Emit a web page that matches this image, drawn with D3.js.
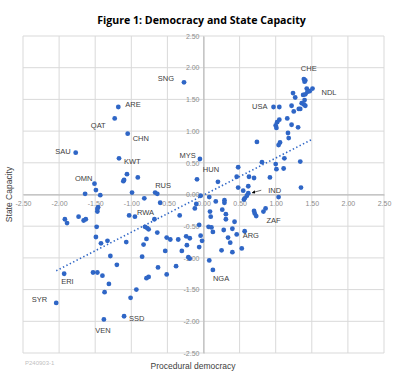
<!DOCTYPE html>
<html>
<head>
<meta charset="utf-8">
<script src="https://cdn.jsdelivr.net/npm/d3@7"></script>
<style>
  body { margin: 0; background: #ffffff; }
  svg { display: block; }
</style>
</head>
<body>
<div id="chart"></div>
<script>
// procedural democracy (x) vs state capacity (y)
const democracy = [
  -0.27, -1.18, -1.23, -1.05, -1.77, -1.17, -0.05, -1.06, -0.91, -1.10,
  -1.11, -0.09, -1.51, -1.49, -1.64, -1.43, -0.99, -0.67, -0.64, -0.82,
  -0.60, -1.46, -1.47, -1.47, -1.92, -1.89, -1.73, -1.66, -1.63, -1.03,
  -0.95, -0.68, -1.48, -0.81, -0.78, -0.76, -0.64, -0.33, -0.10, -0.12,
  -1.49, -1.42, -1.33, -1.07, -0.79, -0.83, -0.51, -0.46, -0.35, -1.29,
  -1.20, -0.85, -0.53, -0.38, -0.63, -0.51, -1.93, -1.53, -1.47, -1.40,
  -1.31, -1.37, -0.76, -0.79, -0.93, -1.01, -2.04, -1.38, -1.10, -0.30,
  -0.24, -0.23, -0.19, -0.21, -0.19, -0.06, -0.04, -0.02, -0.06, 0.07,
  0.11, 0.13, 0.28, 0.34, 0.37, 0.25, 0.40, 0.53, 0.08, 0.13,
  0.43, 0.40, 0.46, 0.57, 0.08, 0.17, 0.29, 0.29, 0.26, 0.31,
  0.31, 0.09, 0.10, 0.70, 0.71, 0.73, 0.83, 0.86, 1.04, 0.62,
  0.60, 0.57, 0.56, 0.55, 0.48, 0.62, 1.35, 0.20, 0.46, 0.63,
  0.70, 0.92, 0.48, 0.81, 1.00, 1.01, 1.11, 1.12, 1.34, 0.74,
  1.06, 1.04, 1.18, 1.17, 1.05, 1.02, 1.00, 1.01, 1.16, 1.22,
  1.31, 0.97, 1.05, 1.22, 1.25, 1.32, 1.34, 1.36, 1.39, 1.41,
  1.40, 1.38, 1.41, 1.24, 1.27, 1.43, 1.47, 1.51, 1.44, 1.39,
  1.41, 1.40, -0.04
];
const capacity = [
  1.77, 1.38, 1.20, 0.96, 0.66, 0.57, 0.56, 0.32, 0.27, 0.23,
  0.21, 0.24, 0.17, 0.07, 0.01, -0.01, 0.03, 0.03, 0.01, -0.06,
  -0.13, -0.20, -0.23, -0.27, -0.39, -0.45, -0.35, -0.41, -0.39, -0.33,
  -0.35, -0.39, -0.51, -0.51, -0.53, -0.55, -0.60, -0.33, -0.15, -0.22,
  -0.67, -0.77, -0.73, -0.75, -0.70, -0.79, -0.68, -0.71, -0.71, -0.97,
  -1.11, -0.98, -0.89, -1.13, -1.15, -1.26, -1.25, -1.23, -1.23, -1.28,
  -1.41, -1.54, -1.30, -1.32, -1.50, -1.63, -1.71, -1.97, -1.92, -0.89,
  -0.66, -0.80, -0.69, -0.99, -1.01, -0.48, -0.65, -0.73, -0.83, -0.51,
  -0.52, -0.59, -0.56, -0.68, -0.76, -0.88, -0.91, -0.85, -1.04, -1.19,
  -0.43, -0.54, -0.63, -0.58, -0.04, -0.11, -0.09, -0.13, -0.24, -0.31,
  -0.39, -0.27, -0.35, -0.26, -0.30, -0.34, -0.27, -0.22, -0.04, 0.02,
  -0.02, -0.06, -0.08, 0.06, 0.11, 0.13, 0.11, 0.20, 0.28, 0.28,
  0.26, 0.27, 0.43, 0.51, 0.48, 0.40, 0.41, 0.57, 0.52, 0.83,
  0.82, 0.78, 0.89, 0.97, 1.18, 1.14, 1.09, 1.05, 1.20, 1.10,
  1.06, 1.38, 1.38, 1.40, 1.31, 1.35, 1.35, 1.44, 1.42, 1.40,
  1.49, 1.57, 1.58, 1.60, 1.53, 1.67, 1.63, 1.67, 1.62, 1.82,
  1.80, 1.78, -0.02
];
// country code shown next to some points (index into the arrays above)
const labelIndex = [0, 1, 2, 3, 4, 5, 6, 12, 17, 117, 109, 106, 93, 89, 30, 56, 66, 67, 68, 141, 159, 157];
const labelText  = ["SNG", "ARE", "QAT", "CHN", "SAU", "KWT", "MYS", "OMN", "RUS", "HUN", "IND", "ZAF", "ARG", "NGA", "RWA", "ERI", "SYR", "VEN", "SSD", "USA", "CHE", "NDL"];
// linear trend
const trendSlope = 0.585;
const trendIntercept = -0.01;
const axisTicks = [-2.5, -2, -1.5, -1, -0.5, 0, 0.5, 1, 1.5, 2, 2.5];

const points = democracy.map((d, i) => ({ x: d, y: capacity[i] }));

const width = 400, height = 371;
const margin = { top: 36, right: 16, bottom: 18, left: 23 };
const blue = "#2f66c6";
const font = "Liberation Sans, Arial, sans-serif";

const svg = d3.select("#chart").append("svg")
  .attr("width", width)
  .attr("height", height);

const x = d3.scaleLinear().domain([-2.5, 2.5]).range([margin.left, width - margin.right]);
const y = d3.scaleLinear().domain([-2.5, 2.5]).range([height - margin.bottom, margin.top]);
const fmt = (d) => d.toFixed(2);

// gridlines
svg.append("g")
  .selectAll("line.v")
  .data(axisTicks)
  .enter()
  .append("line")
  .attr("x1", (d) => x(d)).attr("x2", (d) => x(d))
  .attr("y1", y(2.5)).attr("y2", y(-2.5))
  .attr("stroke", "#d9d9d9").attr("stroke-width", 1);
svg.append("g")
  .selectAll("line.h")
  .data(axisTicks)
  .enter()
  .append("line")
  .attr("x1", x(-2.5)).attr("x2", x(2.5))
  .attr("y1", (d) => y(d)).attr("y2", (d) => y(d))
  .attr("stroke", "#d9d9d9").attr("stroke-width", 1);

// axes crossing at zero
const xAxis = svg.append("g")
  .attr("transform", `translate(0,${y(0)})`)
  .call(d3.axisBottom(x).tickValues(axisTicks).tickFormat(fmt).tickSize(0).tickPadding(7));
const yAxis = svg.append("g")
  .attr("transform", `translate(${x(0)},0)`)
  .call(d3.axisLeft(y).tickValues(axisTicks).tickFormat(fmt).tickSize(0).tickPadding(4));
[xAxis, yAxis].forEach((g) => {
  g.select(".domain").attr("stroke", "#b3b3b3");
  g.selectAll("text")
    .style("font-family", font)
    .style("font-size", "7px")
    .attr("fill", "#8c8c8c");
});

// dots
svg.append("g")
  .selectAll("circle")
  .data(points)
  .enter()
  .append("circle")
  .attr("cx", (d) => x(d.x))
  .attr("cy", (d) => y(d.y))
  .attr("r", 2.4)
  .attr("fill", blue);

// trend line over the data range
const xr = d3.extent(points, (d) => d.x);
svg.append("line")
  .attr("x1", x(xr[0])).attr("y1", y(trendSlope * xr[0] + trendIntercept))
  .attr("x2", x(xr[1])).attr("y2", y(trendSlope * xr[1] + trendIntercept))
  .attr("stroke", blue)
  .attr("stroke-width", 1.6)
  .attr("stroke-dasharray", "1.4,2.4");

// label placement: dx, dy (px from the point) and text anchor
const labelPlace = {
  SNG: [-10, -3, "end"], ARE: [7, -2, "start"], QAT: [-9, 8, "end"], CHN: [5, 5, "start"],
  SAU: [-5, -1, "end"], KWT: [5, 4, "start"], MYS: [-4, -3, "end"], OMN: [-2, -5, "end"],
  RUS: [0, -7, "start"], HUN: [-7, -12, "middle"], IND: [20, -2, "start"], ZAF: [3, 9, "start"],
  ARG: [-2, 5, "start"], NGA: [0, 9, "start"], RWA: [2, -4, "start"], ERI: [-3, 8, "start"],
  SYR: [-9, -3, "end"], VEN: [-1, 12, "middle"], SSD: [5, 3, "start"], USA: [-6, 0, "end"],
  CHE: [-3, -10, "start"], NDL: [9, 4, "start"]
};

svg.append("g")
  .selectAll("text")
  .data(labelIndex)
  .enter()
  .append("text")
  .attr("x", (d, i) => x(points[d].x) + labelPlace[labelText[i]][0])
  .attr("y", (d, i) => y(points[d].y) + labelPlace[labelText[i]][1])
  .attr("text-anchor", (d, i) => labelPlace[labelText[i]][2])
  .attr("dominant-baseline", "middle")
  .style("font-family", font)
  .style("font-size", "7.5px")
  .attr("fill", "#404040")
  .text((d, i) => labelText[i]);

// little arrow pointing at IND
const ind = points[labelIndex[labelText.indexOf("IND")]];
svg.append("defs").append("marker")
  .attr("id", "arr")
  .attr("viewBox", "0 0 6 6")
  .attr("refX", 5).attr("refY", 3)
  .attr("markerWidth", 5).attr("markerHeight", 5)
  .attr("orient", "auto")
  .append("path")
  .attr("d", "M0,0 L6,3 L0,6 Z")
  .attr("fill", "#000");
svg.append("line")
  .attr("x1", x(ind.x) + 13).attr("y1", y(ind.y) - 3)
  .attr("x2", x(ind.x) + 4).attr("y2", y(ind.y) - 0.5)
  .attr("stroke", "#333").attr("stroke-width", 0.7)
  .attr("marker-end", "url(#arr)");

// titles
const title = svg.append("text")
  .attr("x", 201.5).attr("y", 23.5)
  .attr("text-anchor", "middle")
  .style("font-family", "Open Sans, Liberation Sans, sans-serif")
  .style("font-size", "11px")
  .style("font-weight", "bold")
  .attr("fill", "#000")
  .text("Figure 1: Democracy and State Capacity");
// squeeze the title to the width it has in the figure
const tw = title.node().getComputedTextLength();
title.style("font-size", (11 * 209 / tw).toFixed(2) + "px");

svg.append("text")
  .attr("transform", `translate(10,${y(0)}) rotate(-90)`)
  .attr("text-anchor", "middle")
  .attr("dominant-baseline", "middle")
  .style("font-family", font)
  .style("font-size", "8.5px")
  .attr("fill", "#404040")
  .text("State Capacity");

svg.append("text")
  .attr("x", 193).attr("y", 369)
  .attr("text-anchor", "middle")
  .style("font-family", font)
  .style("font-size", "8.5px")
  .attr("fill", "#404040")
  .text("Procedural democracy");

svg.append("text")
  .attr("x", 25).attr("y", 365)
  .style("font-family", font)
  .style("font-size", "6px")
  .attr("fill", "#bfbfbf")
  .text("P240903-1");
</script>
</body>
</html>
